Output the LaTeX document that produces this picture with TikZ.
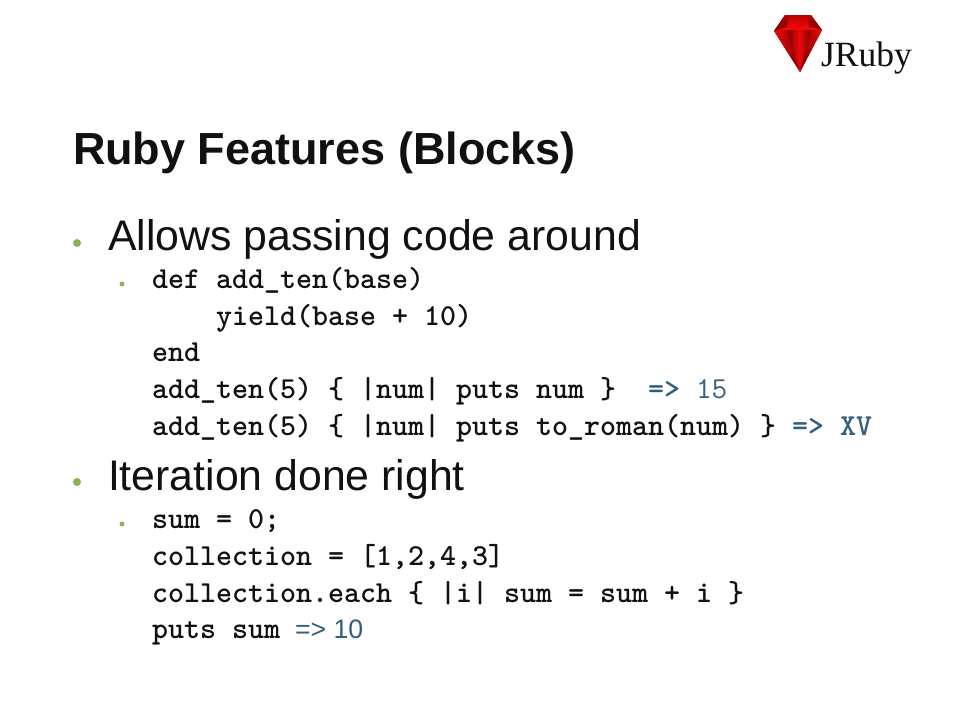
\documentclass[tikz,border=0pt]{standalone}
\usepackage{fontspec}
\setmainfont{Liberation Sans}
\newfontfamily\logofont{Liberation Serif}
\definecolor{bulletgreen}{HTML}{8DB255}
\definecolor{resultblue}{HTML}{34607F}
\definecolor{inkblack}{HTML}{111111}
\definecolor{gembright}{HTML}{F00808}
\definecolor{gemdark}{HTML}{7A0000}
\definecolor{gemmid}{HTML}{B80000}
\tikzset{
  textline/.style={anchor=base west,inner sep=0pt,outer sep=0pt,text=inkblack},
  slidetitle/.style={textline,font=\fontsize{45}{45}\selectfont\bfseries},
  mainitem/.style={textline,font=\fontsize{42.8}{44}\selectfont},
  codeline/.style={textline,font=\fontsize{30.48}{32}\selectfont\ttfamily\bfseries},
  resultline/.style={codeline,text=resultblue},
  resultlight/.style={textline,font=\fontsize{30.48}{32}\selectfont\ttfamily,text=resultblue},
  resultsans/.style={textline,font=\fontsize{26.67}{30}\selectfont,text=resultblue},
  bulletbig/.style={circle,fill=bulletgreen,minimum size=8pt,inner sep=0pt},
  bulletsmall/.style={circle,fill=bulletgreen,minimum size=5pt,inner sep=0pt},
}
\begin{document}
\begin{tikzpicture}[x=1pt,y=-1pt]
\useasboundingbox (0,0) rectangle (960,720);
\fill[white] (0,0) rectangle (960,720);
% logo gem: base
\fill[gemmid] (785,15) -- (811,15) -- (822,30) -- (800,72) -- (774,31) -- cycle;
% pavilion facets
\shade[left color=gembright,right color=gemdark] (774,31) -- (787,30) -- (800,72) -- cycle;
\shade[left color=gemdark,right color=gembright] (787,30) -- (799,30) -- (800,72) -- cycle;
\shade[left color=gembright,right color=gemdark] (799,30) -- (811,30) -- (800,72) -- cycle;
\shade[left color=gemdark,right color=gembright] (811,30) -- (822,30) -- (800,72) -- cycle;
% crown
\shade[top color=gemmid,bottom color=gemdark] (785,15) -- (811,15) -- (822,30) -- (811,27) -- (787,27) -- (774,31) -- cycle;
\shade[top color=gemmid,bottom color=gembright] (789,15) -- (807,15) -- (809,27) -- (787,27) -- cycle;
% girdle highlight
\fill[gembright] (774,31) -- (787,27) -- (811,27) -- (822,30) -- (811,30) -- (787,30) -- cycle;
\node[textline,font=\fontsize{35.5}{36}\selectfont\logofont] (logo) at (821,66) {JRuby};
% title
\node[slidetitle] (title) at (73,164) {Ruby Features (Blocks)};
% first item
\node[bulletbig] (b1) at (77,243) {};
\node[mainitem] (i1) at (108,250) {Allows passing code around};
\node[bulletsmall] (b2) at (122,284) {};
\node[codeline] (c1) at (152,288) {def add\_ten(base)};
\node[codeline] (c2) at (216,325) {yield(base + 10)};
\node[codeline] (c3) at (152,361) {end};
\node[codeline] (c4) at (152,398) {add\_ten(5) \{ |num| puts num \}};
\node[resultline] (r4) at (648,398) {=>};
\node[resultlight] (r4b) at (696,398) {15};
\node[codeline] (c5) at (152,435) {add\_ten(5) \{ |num| puts to\_roman(num) \}};
\node[resultline] (r5) at (792,435) {=> XV};
% second item
\node[bulletbig] (b3) at (77,482) {};
\node[mainitem] (i2) at (108,490) {Iteration done right};
\node[bulletsmall] (b4) at (122,524) {};
\node[codeline] (d1) at (152,528) {sum = 0;};
\node[codeline] (d2) at (152,565) {collection = [1,2,4,3]};
\node[codeline] (d3) at (152,602) {collection.each \{ |i| sum = sum + i \}};
\node[codeline] (d4) at (152,638) {puts sum};
\node[resultsans] (r6) at (295,638) {=> 10};
\end{tikzpicture}
\end{document}
